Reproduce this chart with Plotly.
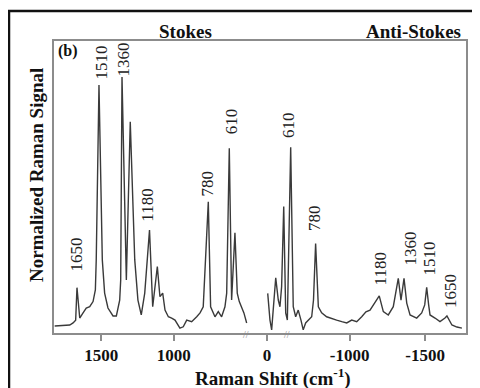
import plotly.graph_objects as go

# ---- data ----
stokes_shift = [1822, 1718, 1695, 1677, 1668, 1649, 1626, 1604, 1580, 1557, 1541, 1535,
                1516, 1493, 1477, 1454, 1419, 1396, 1373, 1366, 1357, 1327, 1300, 1269,
                1247, 1224, 1200, 1167, 1145, 1113, 1095, 1076, 1060, 1037, 1014, 991,
                957, 934, 910, 876, 841, 818, 796, 761, 745, 715, 692, 669, 646, 634,
                616, 600, 577, 561, 547, 530, 515, 496]
stokes_signal = [0.031, 0.035, 0.043, 0.054, 0.180, 0.062, 0.082, 0.101, 0.106, 0.126, 0.171, 0.288,
                 0.968, 0.288, 0.159, 0.101, 0.070, 0.070, 0.132, 0.210, 1.000, 0.210, 0.825, 0.288,
                 0.132, 0.074, 0.159, 0.404, 0.106, 0.262, 0.145, 0.159, 0.093, 0.067, 0.062, 0.054,
                 0.023, 0.028, 0.054, 0.048, 0.067, 0.082, 0.106, 0.514, 0.106, 0.067, 0.087, 0.067, 0.106, 0.159,
                 0.722, 0.132, 0.393, 0.159, 0.126, 0.106, 0.082, 0.043]

anti_shift = [-458, -473, -484, -495, -511, -528, -539, -550, -564, -577, -588, -610,
              -627, -643, -660, -678, -693, -709, -726, -749, -761, -775, -793, -815,
              -848, -881, -914, -948, -981, -1014, -1047, -1080, -1108, -1135, -1157, -1196,
              -1223, -1256, -1289, -1322, -1340, -1360, -1378, -1400, -1444, -1477, -1497, -1510,
              -1523, -1532, -1565, -1598, -1631, -1644, -1677, -1710, -1743]
anti_signal = [0.158, 0.054, 0.016, 0.106, 0.218, 0.132, 0.106, 0.184, 0.495, 0.082, 0.054, 0.726,
               0.106, 0.067, 0.093, 0.054, 0.016, 0.043, 0.054, 0.067, 0.132, 0.352, 0.106, 0.082,
               0.067, 0.062, 0.054, 0.048, 0.043, 0.054, 0.048, 0.067, 0.086, 0.093, 0.113, 0.148,
               0.087, 0.074, 0.106, 0.216, 0.132, 0.216, 0.120, 0.074, 0.062, 0.082, 0.113, 0.181,
               0.113, 0.074, 0.062, 0.048, 0.062, 0.070, 0.035, 0.027, 0.023]

stokes_labels = ["1650", "1510", "1360", "1180", "780", "610"]
stokes_label_x = [1678, 1499, 1347, 1177, 767, 604]
stokes_label_y = [0.237, 0.987, 0.999, 0.431, 0.532, 0.773]

anti_labels = ["610", "780", "1180", "1360", "1510", "1650"]
anti_label_x = [-599, -771, -1201, -1403, -1529, -1664]
anti_label_y = [0.754, 0.393, 0.183, 0.257, 0.218, 0.093]

stokes_ticks = [1500, 1000]
zero_tick = [0]
anti_ticks = [-1000, -1500]

SERIF = "Liberation Serif"
LINE = "#3a3a3a"
GRAY = "#8c8c8c"

fig = go.Figure()
fig.add_trace(go.Scatter(x=stokes_shift, y=stokes_signal, mode="lines", xaxis="x", yaxis="y",
                         line=dict(color=LINE, width=1.4), showlegend=False, hoverinfo="skip"))
# empty trace so that the short "0" axis segment is drawn
fig.add_trace(go.Scatter(x=zero_tick, y=[None], mode="markers", xaxis="x2", yaxis="y",
                         marker=dict(opacity=0), showlegend=False, hoverinfo="skip"))
fig.add_trace(go.Scatter(x=anti_shift, y=anti_signal, mode="lines", xaxis="x3", yaxis="y",
                         line=dict(color=LINE, width=1.4), showlegend=False, hoverinfo="skip"))

tickfont = dict(family=SERIF, size=17, color="#111")
common_x = dict(showgrid=False, zeroline=False, showline=False, ticks="outside", ticklen=6,
                tickwidth=1.5, tickcolor=GRAY, tickfont=tickfont, anchor="y", fixedrange=True)

# page body adds an 8px offset; figure fills the rest of the 480x388 window
fig.update_layout(
    width=472, height=380,
    margin=dict(l=45, r=13, t=32, b=54),
    paper_bgcolor="white", plot_bgcolor="white",
    xaxis=dict(domain=[0, 0.4758], range=[1833.6, 473.1], tickvals=stokes_ticks,
               ticktext=[f"<b>{v}</b>" for v in stokes_ticks], **common_x),
    xaxis2=dict(domain=[0.5, 0.5338], range=[1, -1], tickvals=zero_tick,
                ticktext=["<b>0</b>"], **common_x),
    xaxis3=dict(domain=[0.5048, 1], range=[-420.1, -1776.8], tickvals=anti_ticks,
                ticktext=[f"<b>{v}</b>" for v in anti_ticks], **common_x),
    yaxis=dict(range=[0, 1.1426], showgrid=False, zeroline=False, showline=False,
               showticklabels=False, ticks="", fixedrange=True),
)

shapes = [
    # plot box
    dict(type="rect", xref="paper", yref="paper", x0=0, x1=1, y0=0, y1=1,
         line=dict(color=GRAY, width=2)),
    # outer frame
    dict(type="rect", xref="paper", yref="paper", x0=(9 - 53) / 414, x1=1.05, y0=-0.25, y1=(334 - 11) / 294,
         line=dict(color="#111", width=2.5)),
]
fig.update_layout(shapes=shapes)

ann = []
for t, x, y in zip(stokes_labels, stokes_label_x, stokes_label_y):
    d = dict(x=x, y=y, xref="x", yref="y", text=t, showarrow=False, textangle=-90,
             xanchor="center", yanchor="bottom", font=dict(family=SERIF, size=17, color="#222"),
             borderpad=0)
    if t == "1360":
        d["bgcolor"] = "white"
    ann.append(d)
for t, x, y in zip(anti_labels, anti_label_x, anti_label_y):
    ann.append(dict(x=x, y=y, xref="x3", yref="y", text=t, showarrow=False, textangle=-90,
                    xanchor="center", yanchor="bottom", font=dict(family=SERIF, size=17, color="#222")))

ann += [
    dict(x=(185 - 53) / 414, y=(334 - 31) / 294, xref="paper", yref="paper", text="<b>Stokes</b>",
         showarrow=False, font=dict(family=SERIF, size=19, color="#111"), xanchor="center", yanchor="middle"),
    dict(x=(463 - 53) / 414, y=(334 - 31) / 294, xref="paper", yref="paper", text="<b>Anti-Stokes</b>",
         showarrow=False, font=dict(family=SERIF, size=19, color="#111"), xanchor="right", yanchor="middle"),
    dict(x=(56 - 53) / 414, y=(334 - 51) / 294, xref="paper", yref="paper", text="<b>(b)</b>",
         showarrow=False, font=dict(family=SERIF, size=16, color="#111"), xanchor="left", yanchor="middle"),
    dict(x=(36 - 53) / 414, y=(334 - 175) / 294, xref="paper", yref="paper",
         text="<b>Normalized Raman Signal</b>", textangle=-90, showarrow=False,
         font=dict(family=SERIF, size=19, color="#111"), xanchor="center", yanchor="middle"),
    dict(x=(273 - 53) / 414, y=(334 - 377) / 294, xref="paper", yref="paper",
         text="<b>Raman Shift (cm<sup>-1</sup>)</b>", showarrow=False,
         font=dict(family=SERIF, size=19, color="#111"), xanchor="center", yanchor="middle"),
    # axis break marks
    dict(x=(246 - 53) / 414, y=0, xref="paper", yref="paper", text="//", showarrow=False,
         font=dict(family=SERIF, size=10, color=GRAY), xanchor="center", yanchor="middle"),
    dict(x=(287 - 53) / 414, y=0, xref="paper", yref="paper", text="//", showarrow=False,
         font=dict(family=SERIF, size=10, color=GRAY), xanchor="center", yanchor="middle"),
]
fig.update_layout(annotations=ann)

fig.write_html("out.html")
